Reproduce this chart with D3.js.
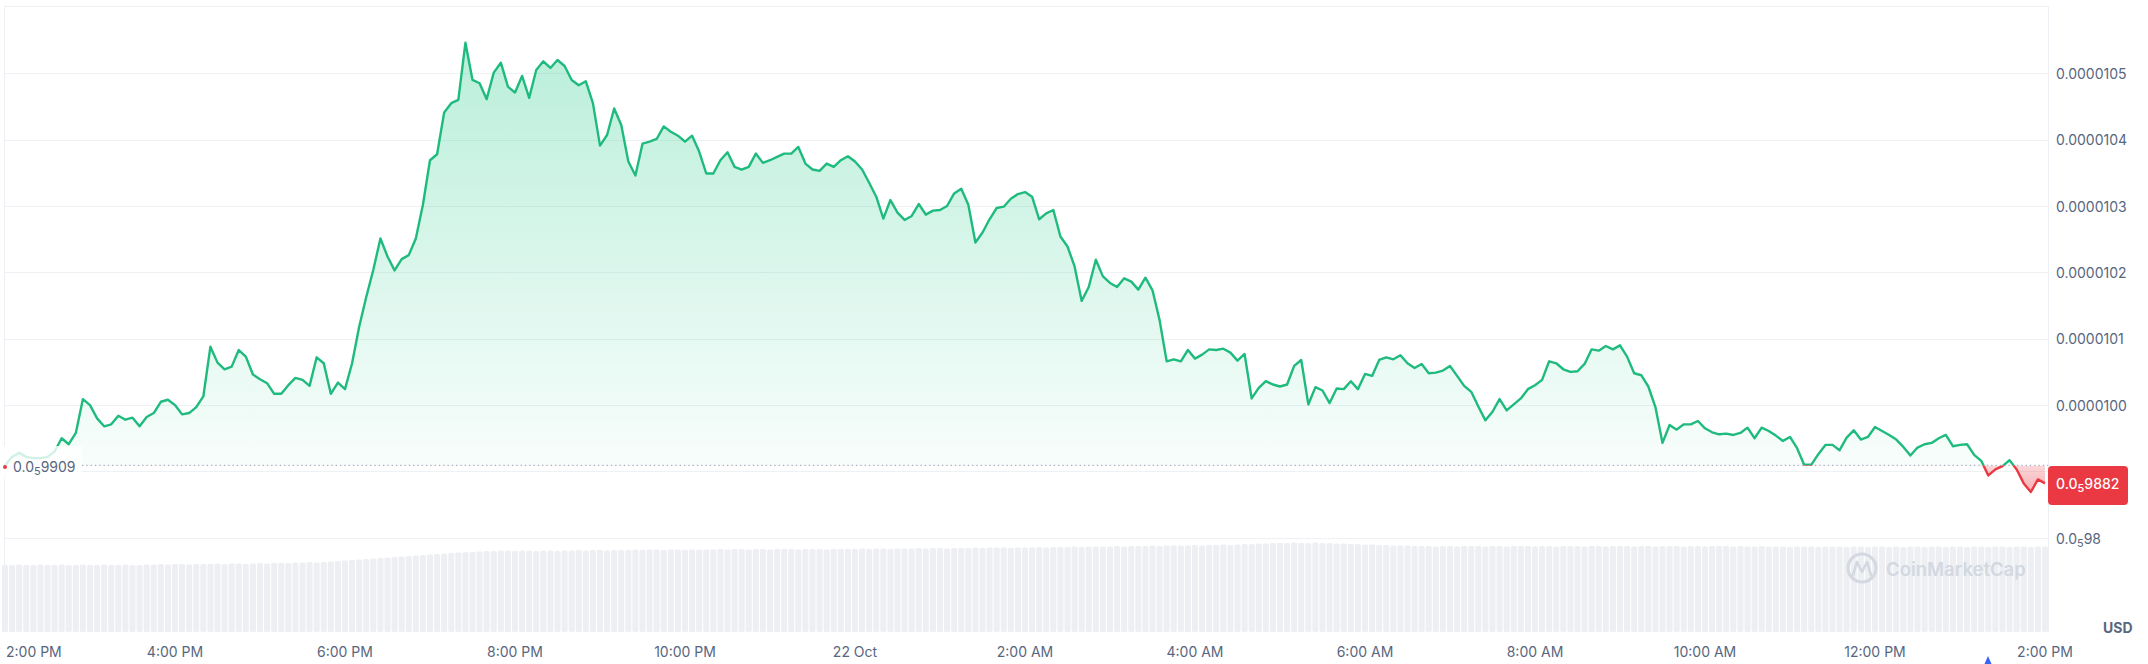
<!DOCTYPE html>
<html><head><meta charset="utf-8">
<script src="https://cdn.jsdelivr.net/npm/d3@7"></script>
<style>
html,body{margin:0;padding:0;background:#fff;}
svg{display:block;font-family:Inter,"Noto Sans",sans-serif;}
</style></head><body>
<svg id="chart" width="2148" height="664"></svg>
<script>
// ---------------- DATA ----------------
// 24h price, one point every 5 minutes, starting 21 Oct 2:00 PM.
// Values are price × 1e7 (USD), e.g. 99.09 -> 0.000009909
const startTime = new Date(2024, 9, 21, 14, 0);
const stepMinutes = 5;
const openPriceE7 = 99.09;
const lastPriceE7 = 98.82;
const priceE7 = [
  99.09,99.22,99.28,99.22,99.20,99.20,99.22,99.30,99.50,99.41,
  99.58,100.09,100.00,99.80,99.68,99.71,99.84,99.78,99.81,99.68,
  99.82,99.88,100.05,100.08,100.00,99.86,99.88,99.97,100.13,100.88,
  100.64,100.54,100.58,100.83,100.73,100.46,100.39,100.33,100.17,100.17,
  100.30,100.41,100.38,100.29,100.72,100.63,100.17,100.34,100.24,100.63,
  101.18,101.63,102.04,102.51,102.24,102.03,102.20,102.26,102.51,103.02,
  103.69,103.78,104.41,104.55,104.60,105.46,104.90,104.85,104.61,105.01,
  105.16,104.80,104.71,104.96,104.63,105.05,105.18,105.08,105.20,105.11,
  104.90,104.82,104.88,104.55,103.91,104.07,104.47,104.22,103.67,103.46,
  103.94,103.97,104.01,104.20,104.12,104.06,103.97,104.06,103.82,103.49,
  103.49,103.69,103.81,103.59,103.55,103.59,103.79,103.65,103.69,103.74,
  103.79,103.79,103.89,103.64,103.55,103.53,103.64,103.59,103.69,103.75,
  103.67,103.55,103.35,103.14,102.81,103.09,102.90,102.79,102.85,103.03,
  102.87,102.93,102.94,103.00,103.19,103.26,103.02,102.45,102.60,102.80,
  102.97,102.99,103.11,103.18,103.21,103.14,102.80,102.89,102.94,102.54,
  102.39,102.09,101.57,101.78,102.19,101.94,101.84,101.78,101.91,101.86,
  101.74,101.92,101.73,101.28,100.66,100.69,100.66,100.83,100.70,100.76,
  100.84,100.83,100.85,100.79,100.67,100.77,100.10,100.26,100.36,100.31,
  100.28,100.31,100.59,100.68,100.01,100.27,100.22,100.03,100.25,100.24,
  100.36,100.24,100.47,100.44,100.68,100.72,100.69,100.75,100.63,100.56,
  100.62,100.48,100.49,100.52,100.59,100.44,100.29,100.20,99.98,99.77,
  99.90,100.09,99.92,100.01,100.10,100.24,100.30,100.38,100.66,100.63,
  100.54,100.50,100.51,100.62,100.84,100.82,100.89,100.84,100.90,100.73,
  100.48,100.45,100.28,99.97,99.43,99.70,99.63,99.71,99.71,99.76,
  99.65,99.59,99.56,99.57,99.55,99.58,99.66,99.50,99.66,99.61,
  99.54,99.46,99.52,99.35,99.10,99.10,99.26,99.40,99.40,99.32,
  99.51,99.62,99.48,99.52,99.67,99.61,99.55,99.48,99.37,99.24,
  99.36,99.41,99.43,99.50,99.55,99.38,99.40,99.41,99.25,99.16,
  98.94,99.03,99.08,99.17,99.03,98.82,98.69,98.88,98.82
];
// Volume (relative units), one bar per 5-minute step
const volume = [
  67,67,67.5,67,67,67.5,67,67,67.5,67,
  67,67.5,67,67,67.5,67,67,67.5,67,67,
  67.5,67.5,68,67.5,68,68,67.5,68,68,68,
  68.5,68,68.5,68.5,68,68.5,69,68.5,69,69,
  69,69.5,69.5,70,69.5,70,70.5,71,71.5,72,
  72.5,73,73.5,74,74.5,75,75.5,76,76.5,77,
  77.5,78,78.5,79,79.5,80,80,80.5,81,81,
  81.5,81.5,81,81.5,81.5,81,81.5,81.5,81,81.5,
  81.5,82,81.5,82,82,81.5,82,82,82,82.5,
  82,82.5,82.5,82,82.5,82.5,82,82.5,82.5,82.5,
  82.5,83,82.5,83,83,82.5,83,83,82.5,83,
  83,83,82.5,83,83,83,82.5,83,83,83,
  83,83.5,83,83.5,83.5,83,83.5,83.5,83.5,84,
  83.5,84,84,83.5,84,84,84,84.5,84,84.5,
  84.5,84.5,84,84.5,84.5,84.5,85,84.5,85,85,
  85,85.5,85,85.5,85.5,85.5,85.5,86,85.5,86,
  86,86,86.5,86,86.5,86.5,86.5,86.5,87,86.5,
  87,87,87.5,87,87.5,88,88,88.5,88.5,89,
  89,89,89.5,89,89,89.5,89,89,88.5,88.5,
  88,88,87.5,87.5,87,87,86.5,86.5,86.5,86,
  86,86,85.5,86,86,85.5,86,86,86,85.5,
  86,86,85.5,86,86,86,85.5,86,86,85.5,
  86,86,86,85.5,86,86,85.5,86,86,86,
  85.5,86,86,85.5,86,86,86,85.5,86,86,
  85.5,86,86,86,85.5,86,85.5,85.5,86,85.5,
  85.5,85.5,85,85.5,85.5,85.5,85,85.5,85.5,85.5,
  85,85.5,85.5,85,85.5,85.5,85,85.5,85,85.5,
  85.5,85,85.5,85.5,85,85.5,85.5,85,85.5,85.5,
  85,85.5,85.5,85,85.5,85.5,85,85.5,85.5
];
const yTickValuesE7 = [98, 100, 101, 102, 103, 104, 105];
const gridValuesE7 = [98, 99, 100, 101, 102, 103, 104, 105];
const xTickHours = [0,2,4,6,8,10,12,14,16,18,20,22,24];

// ---------------- CHART ----------------
const svg = d3.select("#chart");
const GREEN = "#1fbb7e", RED = "#ea3943", TXT = "#58667e", GRID = "#eff2f5";

const endTime = d3.timeHour.offset(startTime, 24);
const x = d3.scaleTime().domain([startTime, endTime]).range([5, 2045]);
const y = d3.scaleLinear().domain([98, 105]).range([537.8, 73.3]);
const yVol = d3.scaleLinear().domain([0, 100]).range([632, 532]);
const tOf = i => d3.timeMinute.offset(startTime, i * stepMinutes);
const data = priceE7.map((v, i) => ({t: tOf(i), v}));
const baseY = y(openPriceE7);

const defs = svg.append("defs");
const gUp = defs.append("linearGradient").attr("id","gUp").attr("gradientUnits","userSpaceOnUse")
  .attr("x1",0).attr("x2",0).attr("y1",7).attr("y2",baseY);
gUp.append("stop").attr("offset",0).attr("stop-color","#16c784").attr("stop-opacity",0.32);
gUp.append("stop").attr("offset",1).attr("stop-color","#16c784").attr("stop-opacity",0.03);
const gDn = defs.append("linearGradient").attr("id","gDn").attr("gradientUnits","userSpaceOnUse")
  .attr("x1",0).attr("x2",0).attr("y1",baseY).attr("y2",baseY+40);
gDn.append("stop").attr("offset",0).attr("stop-color",RED).attr("stop-opacity",0.2);
gDn.append("stop").attr("offset",1).attr("stop-color",RED).attr("stop-opacity",0.5);
defs.append("clipPath").attr("id","cAbove").append("rect").attr("x",0).attr("y",0).attr("width",2048).attr("height",baseY);
defs.append("clipPath").attr("id","cBelow").append("rect").attr("x",0).attr("y",baseY).attr("width",2048).attr("height",664-baseY);

// volume bars
const bw = (x(tOf(1)) - x(tOf(0)));
svg.append("g").selectAll("rect").data(volume).join("rect")
  .attr("x", (d,i) => x(tOf(i)) - bw/2 + 0.5)
  .attr("width", bw - 1)
  .attr("y", d => yVol(d))
  .attr("height", d => yVol(0) - yVol(d))
  .attr("rx", 1.5)
  .attr("fill", "#edeff3");

// gridlines
svg.append("g").selectAll("line").data(gridValuesE7).join("line")
  .attr("x1",5).attr("x2",2048).attr("y1",d=>Math.round(y(d))+0.5).attr("y2",d=>Math.round(y(d))+0.5)
  .attr("stroke",GRID).attr("stroke-width",1);
// frame
svg.append("line").attr("x1",4.5).attr("x2",2048.5).attr("y1",6.5).attr("y2",6.5).attr("stroke","#eceff3");
svg.append("line").attr("x1",4.5).attr("x2",4.5).attr("y1",6.5).attr("y2",632).attr("stroke","#eceff3");
svg.append("line").attr("x1",2048.5).attr("x2",2048.5).attr("y1",6.5).attr("y2",632).attr("stroke","#eceff3");

// watermark
const wm = svg.append("g");
wm.append("circle").attr("cx",1862).attr("cy",568).attr("r",14).attr("fill","none").attr("stroke","#d3d8e1").attr("stroke-width",3);
wm.append("path").attr("d","M1853,575 L1857,562 L1862,572 L1867,562 L1871,575").attr("fill","none").attr("stroke","#d3d8e1").attr("stroke-width",2.6).attr("stroke-linejoin","round").attr("stroke-linecap","round");
wm.append("text").attr("x",1886).attr("y",569).attr("dominant-baseline","central")
  .attr("font-size",18.5).attr("font-weight",600).attr("fill","#d3d8e1").text("CoinMarketCap");

// areas
const area = d3.area().x(d=>x(d.t)).y0(baseY).y1(d=>y(d.v));
svg.append("path").datum(data).attr("d",area).attr("fill","url(#gUp)").attr("clip-path","url(#cAbove)");
svg.append("path").datum(data).attr("d",area).attr("fill","url(#gDn)").attr("clip-path","url(#cBelow)");

// baseline dotted
svg.append("line").attr("x1",82).attr("x2",2048).attr("y1",baseY).attr("y2",baseY)
  .attr("stroke","#a7b1c2").attr("stroke-width",1.3).attr("stroke-dasharray","1.3,3");

// lines
const line = d3.line().x(d=>x(d.t)).y(d=>y(d.v));
svg.append("path").datum(data).attr("d",line).attr("fill","none").attr("stroke",GREEN).attr("stroke-width",2.4)
  .attr("stroke-linejoin","round").attr("clip-path","url(#cAbove)");
svg.append("path").datum(data).attr("d",line).attr("fill","none").attr("stroke",RED).attr("stroke-width",2.4)
  .attr("stroke-linejoin","round").attr("clip-path","url(#cBelow)");

// price text helper with subscript zero-count
function priceLabel(sel, vE7){
  if (vE7 >= 100 - 1e-9) { sel.text((vE7 * 1e-7).toFixed(7)); return; }
  const p = vE7 * 1e-7;
  const s = p.toFixed(12).slice(2);
  const zeros = s.match(/^0*/)[0].length;
  const rest = s.slice(zeros).replace(/0+$/,"");
  sel.append("tspan").text("0.0");
  sel.append("tspan").attr("font-size","0.78em").attr("dy",5).text(String(zeros));
  sel.append("tspan").attr("dy",-5).text(rest);
}

// open price label (left) with translucent backdrop over the line start
svg.append("rect").attr("x",0).attr("y",446).attr("width",82).attr("height",33).attr("fill","#fff").attr("opacity",0.8);
svg.append("circle").attr("cx",5).attr("cy",467).attr("r",2).attr("fill",RED);
priceLabel(svg.append("text").attr("x",13).attr("y",466).attr("dominant-baseline","central")
  .attr("font-size",14).attr("fill",TXT), openPriceE7);

// right axis labels
yTickValuesE7.forEach(v=>{
  priceLabel(svg.append("text").attr("x",2056).attr("y",y(v)).attr("dominant-baseline","central")
    .attr("font-size",14).attr("fill",TXT), v);
});

// current price box
svg.append("rect").attr("x",2048).attr("y",466).attr("width",80).attr("height",39).attr("rx",4).attr("fill",RED);
priceLabel(svg.append("text").attr("x",2056).attr("y",y(lastPriceE7)).attr("dominant-baseline","central")
  .attr("font-size",14).attr("font-weight",500).attr("fill","#fff"), lastPriceE7);

// x axis labels
const fmtTime = d3.timeFormat("%-I:%M %p"), fmtDay = d3.timeFormat("%-d %b");
xTickHours.forEach((h, k)=>{
  const t = d3.timeHour.offset(startTime, h);
  const lbl = (t.getHours()===0) ? fmtDay(t) : fmtTime(t);
  svg.append("text").attr("x", k===0 ? 6 : x(t)).attr("y",651).attr("dominant-baseline","central")
    .attr("text-anchor", k===0 ? "start" : "middle").attr("font-size",14).attr("fill",TXT).text(lbl);
});

// currency
svg.append("text").attr("x",2103).attr("y",627).attr("dominant-baseline","central")
  .attr("font-size",14).attr("font-weight",700).attr("fill",TXT).text("USD");

// small marker at bottom edge
svg.append("path").attr("d","M1988,656 L1984.5,664 L1991.5,664 Z").attr("fill","#3861fb");
</script>
</body></html>
